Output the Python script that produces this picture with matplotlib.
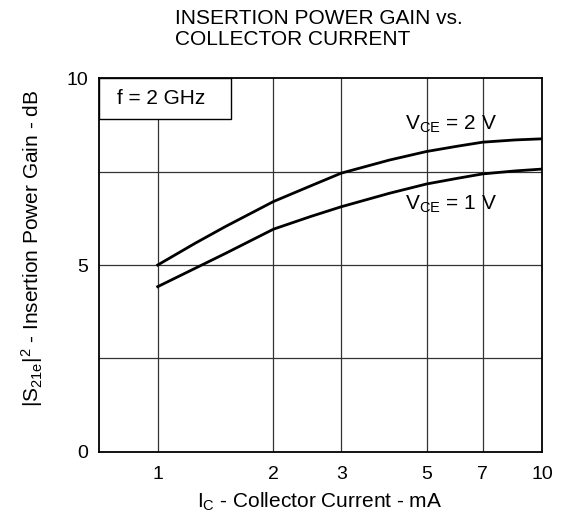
import numpy as np
import matplotlib.pyplot as plt
from matplotlib.patches import Rectangle

plt.rcParams['font.family'] = ['Liberation Sans', 'DejaVu Sans']
plt.rcParams['mathtext.fontset'] = 'custom'
plt.rcParams['mathtext.rm'] = 'Liberation Sans'
plt.rcParams['mathtext.it'] = 'Liberation Sans:italic'

# collector current (mA) and insertion power gain (dB)
ic = [1, 1.25, 1.5, 2, 2.5, 3, 4, 5, 6, 7, 8.5, 10]
gain_vce2 = [5.0, 5.58, 6.03, 6.70, 7.12, 7.46, 7.81, 8.04, 8.18, 8.29, 8.35, 8.38]
gain_vce1 = [4.42, 4.91, 5.31, 5.96, 6.30, 6.56, 6.92, 7.17, 7.32, 7.44, 7.52, 7.57]

x_ticks = [1, 2, 3, 5, 7, 10]
y_ticks = [0, 5, 10]
y_grid = [2.5, 7.5]

fig = plt.figure(figsize=(5.65, 5.18), dpi=100)
ax = fig.add_axes([0.1758, 0.128, 0.784, 0.7208])

ax.set_xscale('log')
ax.set_xlim(0.705, 10)
ax.set_ylim(0, 10)

for x in x_ticks[:-1]:
    ax.axvline(x, color='#333333', lw=0.9, zorder=1)
for y in y_grid + [5]:
    ax.axhline(y, color='#333333', lw=0.9, zorder=1)

ax.plot(ic, gain_vce2, color='black', lw=2.0, zorder=3)
ax.plot(ic, gain_vce1, color='black', lw=2.0, zorder=3)

ax.set_xticks(x_ticks)
ax.set_xticklabels([str(x) for x in x_ticks])
ax.xaxis.set_minor_locator(plt.NullLocator())
ax.set_yticks(y_ticks)
ax.tick_params(length=0, labelsize=14, pad=10)
ax.tick_params(axis='y', pad=8)
for s in ax.spines.values():
    s.set_linewidth(1.3)

# condition box in the top-left corner
ax.add_patch(Rectangle((0, 0.891), 0.298, 0.109, transform=ax.transAxes,
                       facecolor='white', edgecolor='black', lw=1.0, zorder=4))
ax.text(0.04, 0.9455, 'f = 2 GHz', transform=ax.transAxes, fontsize=15,
        va='center', ha='left', zorder=5)

ax.text(4.40, 8.78, r'V$_{\rm CE}$ = 2 V', fontsize=15, va='center', ha='left',
        zorder=5)
ax.text(4.40, 6.63, r'V$_{\rm CE}$ = 1 V', fontsize=15, va='center', ha='left',
        zorder=5)

fig.text(175 / 565, 1 - 9 / 518, 'INSERTION POWER GAIN vs.\nCOLLECTOR CURRENT',
         fontsize=15, ha='left', va='top', linespacing=1.15)
fig.text(320 / 565, 1 - 502 / 518, r'I$_{\rm C}$ - Collector Current - mA',
         fontsize=15, ha='center', va='center')
fig.text(32 / 565, 1 - 248 / 518, r'|S$_{\rm 21e}$|$^2$ - Insertion Power Gain - dB',
         fontsize=15, ha='center', va='center', rotation=90)

fig.savefig('out.png', dpi=100)
